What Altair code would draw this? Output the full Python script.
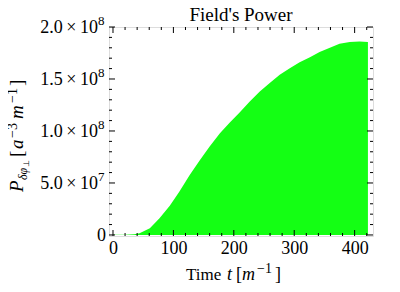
import altair as alt
import pandas as pd

# ---- data ----
time_t = [0, 20, 35, 44, 61, 77, 94, 110, 127, 144, 160, 177, 193, 210,
          226, 243, 259, 276, 292, 309, 326, 342, 359, 375, 392, 408, 422]
power = [0.3e6, 0.3e6, 0.6e6, 1.6e6, 6.4e6, 16e6, 28e6, 41.7e6, 57.7e6,
         72e6, 85e6, 97.8e6, 108e6, 118e6, 128e6, 138e6, 146e6, 154e6,
         160e6, 166e6, 171e6, 176e6, 180e6, 184e6, 185.5e6, 186e6, 185.5e6]

x_major = [0, 100, 200, 300, 400]
x_minor = [20, 40, 60, 80, 120, 140, 160, 180, 220, 240, 260, 280,
           320, 340, 360, 380, 420]
y_major = [0, 5e7, 1e8, 1.5e8, 2e8]
y_minor = [1e7, 2e7, 3e7, 4e7, 6e7, 7e7, 8e7, 9e7, 1.1e8, 1.2e8, 1.3e8,
           1.4e8, 1.6e8, 1.7e8, 1.8e8, 1.9e8]
y_zero_label = "0"
y_sci_values = [5e7, 1e8, 1.5e8, 2e8]
y_sci_mantissa = ["5.0\u2009×\u200910", "1.0\u2009×\u200910",
                  "1.5\u2009×\u200910", "2.0\u2009×\u200910"]
y_sci_exponent = ["7", "8", "8", "8"]
title_text = "Field's Power"

X_DOMAIN = [-6.6, 430.4]
Y_DOMAIN = [-1e6, 2.0e8]
W, H = 264, 209
FONT = "Liberation Serif"

df = pd.DataFrame({"t": time_t, "P": power})
one = pd.DataFrame({"k": [0]})
ysci = pd.DataFrame({"v": y_sci_values, "m": y_sci_mantissa,
                     "e": y_sci_exponent})
yzero = pd.DataFrame({"v": [0], "m": [y_zero_label]})

xs = alt.Scale(domain=X_DOMAIN, nice=False, zero=False)
ys = alt.Scale(domain=Y_DOMAIN, nice=False, zero=False)
xaxis = alt.Axis(values=x_major, ticks=False, domain=False, grid=False,
                 title=None, labelFont=FONT, labelFontSize=18,
                 labelColor="black", labelPadding=3)

area = alt.Chart(df).mark_area(color="#14ff14", opacity=1).encode(
    x=alt.X("t:Q", scale=xs, axis=xaxis),
    y=alt.Y("P:Q", scale=ys, axis=None),
)

def xticks(vals, length):
    d = pd.DataFrame({"v": vals})
    bot = alt.Chart(d).mark_rule(color="black", strokeWidth=1).encode(
        x=alt.X("v:Q", scale=xs, axis=xaxis),
        y=alt.value(H), y2=alt.value(H - length))
    top = alt.Chart(d).mark_rule(color="black", strokeWidth=1).encode(
        x=alt.X("v:Q", scale=xs, axis=xaxis),
        y=alt.value(0), y2=alt.value(length))
    return [bot, top]

def yticks(vals, length):
    d = pd.DataFrame({"v": vals})
    left = alt.Chart(d).mark_rule(color="black", strokeWidth=1).encode(
        y=alt.Y("v:Q", scale=ys, axis=None),
        x=alt.value(0), x2=alt.value(length))
    right = alt.Chart(d).mark_rule(color="black", strokeWidth=1).encode(
        y=alt.Y("v:Q", scale=ys, axis=None),
        x=alt.value(W), x2=alt.value(W - length))
    return [left, right]

# y tick labels with real superscripts
ylab = [
    alt.Chart(ysci).mark_text(align="right", baseline="middle", font=FONT,
                              fontSize=18, color="black", dy=1).encode(
        y=alt.Y("v:Q", scale=ys, axis=None), x=alt.value(-11), text="m:N"),
    alt.Chart(ysci).mark_text(align="left", baseline="middle", font=FONT,
                              fontSize=13, color="black", dy=-6).encode(
        y=alt.Y("v:Q", scale=ys, axis=None), x=alt.value(-11), text="e:N"),
    alt.Chart(yzero).mark_text(align="right", baseline="middle", font=FONT,
                               fontSize=18, color="black", dy=1).encode(
        y=alt.Y("v:Q", scale=ys, axis=None), x=alt.value(-3), text="m:N"),
]

def piece(text, x, y, size, italic=False, angle=0, dx=0, dy=0, align="left"):
    return alt.Chart(one).mark_text(
        text=text, align=align, baseline="alphabetic", font=FONT,
        fontSize=size, fontStyle="italic" if italic else "normal",
        color="black", angle=angle, dx=dx, dy=dy,
    ).encode(x=alt.value(x), y=alt.value(y))

# chart title
ttl = [piece(title_text, W / 2, -6, 19, align="center")]

# x-axis title: "Time  t [m^-1]"
xb = 253
xtitle = [
    piece("Time", 77, xb, 17),
    piece("t", 118, xb, 18, italic=True),
    piece("[", 127, xb, 18),
    piece("m", 133, xb, 18, italic=True),
    piece("−1", 148, xb - 7, 14),
    piece("]", 166, xb, 18),
]

# y-axis title: "P_{δφ⊥} [a^-3 m^-1]" rotated
yx, yy = -86, 165
ytitle = [
    piece("P", yx, yy, 19, italic=True, angle=270, dx=0),
    piece("δφ", yx, yy, 12, italic=True, angle=270, dx=12, dy=4),
    piece("⊥", yx, yy, 8, angle=270, dx=25, dy=6),
    piece("[", yx, yy, 19, angle=270, dx=35),
    piece("a", yx, yy, 19, italic=True, angle=270, dx=43),
    piece("−3", yx, yy, 14, angle=270, dx=54, dy=-6),
    piece("m", yx, yy, 19, italic=True, angle=270, dx=73),
    piece("−1", yx, yy, 14, angle=270, dx=89, dy=-6),
    piece("]", yx, yy, 19, angle=270, dx=106),
]

layers = [area] + xticks(x_major, 6) + xticks(x_minor, 3) \
    + yticks(y_major, 6) + yticks(y_minor, 3) + ylab + ttl + xtitle + ytitle

chart = alt.layer(*layers).properties(
    width=W, height=H,
    autosize=alt.AutoSizeParams(type="none"),
    padding={"left": 101, "top": 19, "right": 19, "bottom": 48},
).configure_view(stroke="black", strokeWidth=1).configure(background="white")

chart.save("out.html", embed_options={"renderer": "svg", "actions": False})
